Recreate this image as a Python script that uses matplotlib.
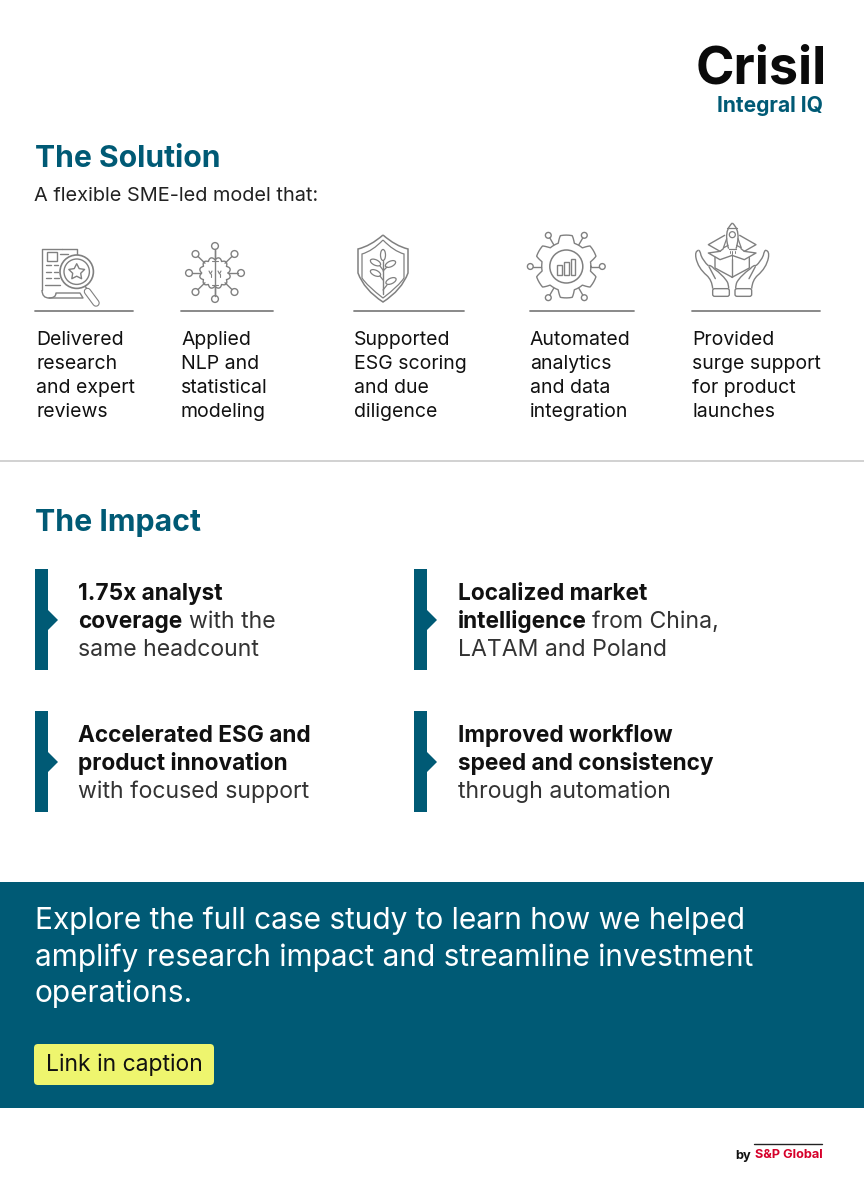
import numpy as np
import matplotlib
matplotlib.use('Agg')
import matplotlib.pyplot as plt
from matplotlib.patches import Rectangle, Circle, Polygon, FancyBboxPatch, Ellipse
from matplotlib.path import Path
from matplotlib.patches import PathPatch

plt.rcParams['font.family'] = ['Inter', 'DejaVu Sans']

TEAL = '#005a75'
GREY = '#808080'
INK = '#111111'

solution_title = 'The Solution'
solution_sub = 'A flexible SME-led model that:'
solution_items = [
    ['Delivered', 'research', 'and expert', 'reviews'],
    ['Applied', 'NLP and', 'statistical', 'modeling'],
    ['Supported', 'ESG scoring', 'and due', 'diligence'],
    ['Automated', 'analytics', 'and data', 'integration'],
    ['Provided', 'surge support', 'for product', 'launches'],
]
solution_x = [36, 181, 354, 530, 692]
rule_spans = [(35, 133), (181, 273), (354, 464), (530, 634), (692, 820)]

impact_title = 'The Impact'
# (bold part, regular part) for each line
impact_items = [
    [('1.75x analyst', ''), ('coverage', ' with the'), ('', 'same headcount')],
    [('Localized market', ''), ('intelligence', ' from China,'), ('', 'LATAM and Poland')],
    [('Accelerated ESG and', ''), ('product innovation', ''), ('', 'with focused support')],
    [('Improved workflow', ''), ('speed and consistency', ''), ('', 'through automation')],
]
impact_pos = [(35, 569), (414, 569), (35, 711), (414, 711)]

banner_lines = ['Explore the full case study to learn how we helped',
                'amplify research impact and streamline investment',
                'operations.']
button_text = 'Link in caption'

fig = plt.figure(figsize=(8.64, 12), dpi=100)
ax = fig.add_axes([0, 0, 1, 1])
ax.set_xlim(0, 864)
ax.set_ylim(1200, 0)
ax.axis('off')


def line(xs, ys, lw=1.0, color=GREY):
    ax.plot(xs, ys, color=color, lw=lw, solid_capstyle='round', solid_joinstyle='round')


def ring(x, y, r, lw=1.0, color=GREY):
    ax.add_patch(Circle((x, y), r, fill=False, ec=color, lw=lw))


def curve(pts, lw=1.0, color=GREY):
    # smooth outline through control points
    pts = np.array(pts, dtype=float)
    codes = [Path.MOVETO] + [Path.CURVE3] * (len(pts) - 1)
    ax.add_patch(PathPatch(Path(pts, codes), fill=False, ec=color, lw=lw))


# logo
ax.text(696, 83, 'Crisil', fontsize=37.5, fontweight='bold', color='#0a0a0a', va='baseline')
ax.text(823, 112, 'Integral IQ', fontsize=15.1, fontweight='bold', color=TEAL, ha='right', va='baseline')

# solution section
ax.text(35, 167, solution_title, fontsize=21.7, fontweight='bold', color=TEAL, va='baseline')
ax.text(34, 201, solution_sub, fontsize=14.35, color='#222222', va='baseline')

for (x0, x1) in rule_spans:
    line([x0, x1], [311, 311], lw=1.3)
for x, lines in zip(solution_x, solution_items):
    for i, t in enumerate(lines):
        ax.text(x, 345 + i * 24, t, fontsize=14.0, color=INK, va='baseline')

# icon 1: document and magnifier
line([62, 42, 42], [248.5, 248.5, 290])
line([62, 77, 77], [248.5, 248.5, 256])
curve([(42, 290), (42, 298), (49, 298), (56, 298), (56, 293)])
line([49, 83, 80, 56], [298, 298, 293, 293])
ax.add_patch(Rectangle((46.7, 251.7), 10, 9, fill=False, ec=GREY, lw=1.0))
line([60, 68], [254, 254])
for yy, segs in zip([265, 271.7, 278.3, 285], [[(46, 51), (54, 58)], [(46, 51), (54, 58)],
                                               [(46, 51), (54, 59)], [(45, 60)]]):
    for s in segs:
        line(list(s), [yy, yy], lw=1.0)
ax.add_patch(Circle((76.7, 271.7), 16.7, fc='white', ec=GREY, lw=1.2, zorder=3))
ax.add_patch(Circle((76.7, 271.7), 12.7, fill=False, ec=GREY, lw=1.0, zorder=3))
star_a = np.arange(10) * np.pi / 5 - np.pi / 2
star_r = np.where(np.arange(10) % 2 == 0, 8.3, 4.2)
ax.add_patch(Polygon(np.c_[76.7 + star_r * np.cos(star_a), 272 + star_r * np.sin(star_a)],
                     fill=False, ec=GREY, lw=1.0, joinstyle='round', zorder=3))
line([85, 87], [286, 289], lw=1.0)
ax.plot([87.5, 96], [291.5, 303], color=GREY, lw=5.4, solid_capstyle='round', zorder=3)
ax.plot([87.5, 96], [291.5, 303], color='white', lw=3.8, solid_capstyle='round', zorder=3)

# icon 2: brain with nodes
bx, by = 215, 273
nodes = [(215, 246), (215, 299), (189, 273), (241, 273),
         (195.5, 254), (234.5, 254), (195.5, 292), (234.5, 292)]
for nx, ny in nodes:
    ring(nx, ny, 3.4)
    d = np.hypot(nx - bx, ny - by)
    ux, uy = (nx - bx) / d, (ny - by) / d
    line([nx - ux * 3.4, nx - ux * (d - 14)], [ny - uy * 3.4, ny - uy * (d - 14)])
th = np.linspace(0, 2 * np.pi, 360)
rad = 13.2 + 2.4 * np.abs(np.sin(6 * th))
ax.plot(bx + rad * np.cos(th), by + rad * np.sin(th), color=GREY, lw=1.0)
line([bx, bx], [250, 296])
for sx in [-4.5, 4.5]:
    line([bx + sx - 1.5, bx + sx, bx + sx + 1.5], [271, 274, 271], lw=0.8)
    line([bx + sx, bx + sx], [274, 277], lw=0.8)
line([bx - 3, bx + 3], [261, 261], lw=0.8)
line([bx - 3, bx + 3], [285, 285], lw=0.8)


# icon 3: shield
def shield(cx, top, bot, hw, lw):
    curve([(cx, top), (cx - hw * 0.5, top + 11), (cx - hw, top + 14),
           (cx - hw, top + 30), (cx - hw, top + 38),
           (cx - hw * 0.75, bot - 12), (cx, bot),
           (cx + hw * 0.75, bot - 12), (cx + hw, top + 38),
           (cx + hw, top + 30), (cx + hw, top + 14),
           (cx + hw * 0.5, top + 11), (cx, top)], lw=lw)


shield(383, 235, 302, 25, 1.1)
shield(383, 240, 298, 21, 0.9)
line([383, 383], [261, 294])
ax.add_patch(Ellipse((383, 255), 5, 11, fill=False, ec=GREY, lw=0.9))
for lx, ly, ang in [(375.5, 262.5, 25), (390.5, 264, -25), (375.5, 273, 25), (391, 281, -25)]:
    ax.add_patch(Ellipse((lx, ly), 11, 5.5, angle=ang, fill=False, ec=GREY, lw=0.9))
line([380, 383], [266, 270], lw=0.9)
line([387, 383], [267, 271], lw=0.9)
line([380, 383], [276, 280], lw=0.9)
line([387, 383], [285, 290], lw=0.9)

# icon 4: gear with chart
gx, gy = 566.3, 266.5
th = np.linspace(0, 2 * np.pi, 600)
gr = 28 + 3.4 * np.clip(2.4 * np.cos(6 * (th - np.pi / 2)), -1, 1)
ax.plot(gx + gr * np.cos(th), gy + gr * np.sin(th), color=GREY, lw=1.0)
ring(gx, gy, 16.5, lw=1.1)
for rx, top in zip([557.3, 564, 570.7], [265.3, 262, 258.7]):
    ax.add_patch(Rectangle((rx, top), 4.6, 275.3 - top, fill=False, ec=GREY, lw=1.0))
for ang in np.arange(6) * np.pi / 3:
    ca, sa = np.cos(ang), np.sin(ang)
    ring(gx + 36 * ca, gy + 36 * sa, 2.9)
    line([gx + 33 * ca, gx + 25 * ca], [gy + 33 * sa, gy + 25 * sa])


# icon 5: hands, box and rocket, outline read in a 3x crop of the picture
def z(pts):
    return [(690 + px / 3, 218 + py / 3) for px, py in pts]


def zline(pts, lw=1.0):
    p = z(pts)
    line([a for a, b in p], [b for a, b in p], lw=lw)


def zcurve(pts, lw=1.0):
    curve(z(pts), lw=lw)


def mirror(pts):
    return [(253 - px, py) for px, py in pts]


zcurve([(127, 15), (108, 32), (110, 60), (111, 80), (116, 92)])
zcurve([(127, 15), (146, 32), (144, 60), (143, 80), (138, 92)])
zline([(116, 92), (138, 92)], lw=0.9)
zline([(112, 30), (142, 30)], lw=0.9)
ring(690 + 127 / 3, 218 + 50 / 3, 3, lw=0.9)
zline([(110, 62), (100, 90), (114, 82)], lw=0.9)
zline([(144, 62), (154, 90), (140, 82)], lw=0.9)
for px, py in [(120, 104), (127, 108), (134, 104)]:
    zline([(px, 98), (px, py)], lw=0.7)
for m in [lambda p: p, mirror]:
    zline(m([(104, 52), (55, 80), (90, 100)]))
    zline(m([(90, 100), (55, 105), (90, 125), (127, 112)]))
    zline(m([(75, 118), (75, 150), (127, 178)]))
    zline(m([(90, 100), (100, 92)]))
    # hand
    zcurve(m([(25, 97), (14, 100), (18, 120), (24, 150), (50, 172), (66, 186), (68, 212)]))
    zcurve(m([(25, 97), (30, 96), (33, 112), (40, 130), (55, 143)]))
    zcurve(m([(55, 143), (62, 140), (72, 152), (100, 172), (112, 192), (116, 200), (116, 212)]))
    zline(m([(57, 146), (76, 182)]))
    px0, py0 = z(m([(68, 212)]))[0]
    px1, py1 = z(m([(118, 235)]))[0]
    ax.add_patch(FancyBboxPatch((min(px0, px1), py0), abs(px1 - px0), py1 - py0,
                                boxstyle='round,pad=0,rounding_size=2', fill=False, ec=GREY, lw=1.0))
zline([(127, 122), (127, 178)])
zline([(127, 112), (127, 122)], lw=0.7)

# divider
ax.add_patch(Rectangle((0, 460), 864, 2, fc='#d2d2d2', ec='none'))

# impact section
ax.text(35, 531, impact_title, fontsize=21.8, fontweight='bold', color=TEAL, va='baseline')

fig.canvas.draw()
renderer = fig.canvas.get_renderer()
for (bar_x, bar_y), rows in zip(impact_pos, impact_items):
    ax.add_patch(Rectangle((bar_x, bar_y), 13, 101, fc=TEAL, ec='none'))
    ax.add_patch(Polygon([(bar_x + 13, bar_y + 41), (bar_x + 23, bar_y + 51), (bar_x + 13, bar_y + 61)],
                         fc=TEAL, ec='none'))
    tx = bar_x + 43.5
    for i, (bold, rest) in enumerate(rows):
        ty = bar_y + 31 + i * 28.2
        x = tx
        if bold:
            t = ax.text(x, ty, bold, fontsize=16.3, fontweight='bold', color=INK, va='baseline')
            x = t.get_window_extent(renderer).x1
        if rest:
            # keep the leading space as a gap
            gap = 6 if rest.startswith(' ') else 0
            ax.text(x + gap, ty, rest.strip(), fontsize=16.6, color='#333333', va='baseline')

# banner
ax.add_patch(Rectangle((0, 882), 864, 226, fc=TEAL, ec='none'))
for i, t in enumerate(banner_lines):
    ax.text(35, 929 + i * 36.5, t, fontsize=21.5, color='white', va='baseline')
ax.add_patch(FancyBboxPatch((34, 1044), 180, 41, boxstyle='round,pad=0,rounding_size=4',
                            fc='#eef56e', ec='none'))
ax.text(46, 1071, button_text, fontsize=16.5, color=INK, va='baseline')

# footer
line([754, 822], [1143.5, 1143.5], lw=1.0, color='#222222')
ax.text(735, 1159, 'by', fontsize=9.2, fontweight='bold', color=INK, va='baseline')
ax.text(822.5, 1158, 'S&P Global', fontsize=9.2, fontweight='bold', color='#d6002a', ha='right', va='baseline')

fig.savefig('out.png', dpi=100)
